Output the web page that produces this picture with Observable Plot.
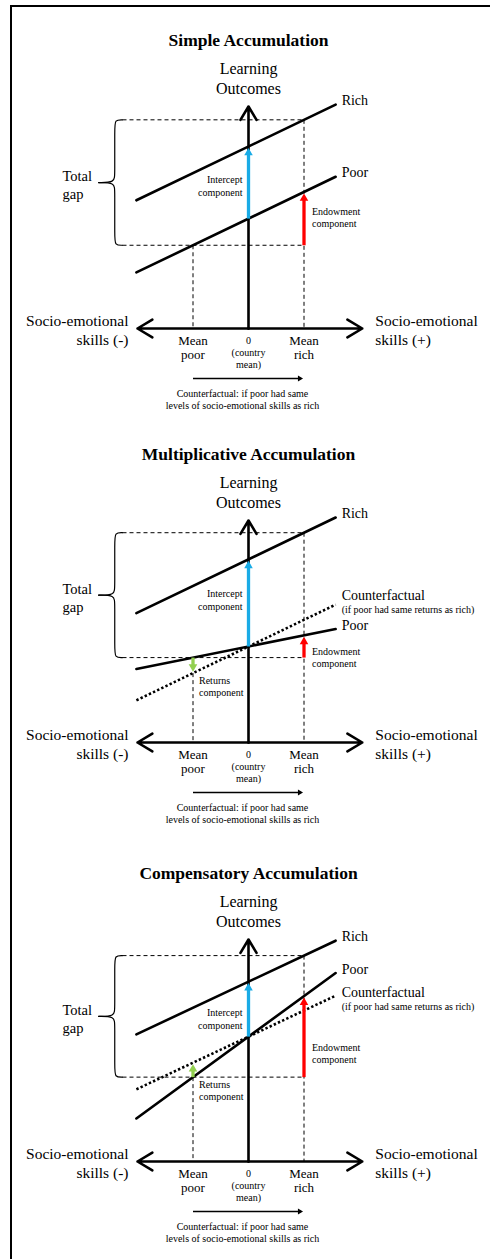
<!DOCTYPE html>
<html>
<head>
<meta charset="utf-8">
<script src="https://cdn.jsdelivr.net/npm/d3@7"></script>
<script src="https://cdn.jsdelivr.net/npm/@observablehq/plot@0.6"></script>
<style>
  html, body { margin: 0; padding: 0; background: #fff; }
  #wrap { position: relative; width: 492px; height: 1259px; overflow: hidden; }
  #frame { position: absolute; left: 10px; top: 5px; right: 2px; bottom: -4px;
           border-top: 2px solid #000; border-left: 2px solid #000; pointer-events: none; }
  svg { display: block; }
</style>
</head>
<body>
<div id="wrap"><div id="charts"></div><div id="frame"></div></div>
<script>
// ---------- data ----------
const panelTitles = ["Simple Accumulation", "Multiplicative Accumulation", "Compensatory Accumulation"];
const richIntercept = [3.28, 3.30, 3.24];   // learning outcome of rich at skills = 0
const richSlope     = [0.48, 0.48, 0.47];   // returns to skills, rich
const poorIntercept = [1.98, 1.73, 2.25];   // learning outcome of poor at skills = 0
const poorSlope     = [0.48, 0.20, 0.73];   // returns to skills, poor
const showCounterfactual = [false, true, true];
const meanPoor = -1, countryMean = 0, meanRich = 1;
const meanTickValues = [meanPoor, meanRich];
const meanTickLabels = ["Mean\npoor", "Mean\nrich"];
const zeroTickLabel = "0\n(country\nmean)";
const lineSpan = [-2.02, 1.57];
const skillAxisSpan = [-2.0, 2.05];
const outcomeAxisTop = 4.0;

// ---------- layout ----------
const panelHeights = [414, 419, 426];
const endowLabelY = [2.0, 1.53, 1.96];
const cfLabelDy = [0, -9, -3];
const interceptLabelY = 2.58;
const shiftArrowY = -0.9;
const blue = "#19ABE6", red = "#FF0000", green = "#92D050";
const serif = "'Liberation Serif', 'Times New Roman', Times, serif";
const tipOffset = rr => 2 * Math.sqrt(Math.PI * rr * rr / (3 * Math.sqrt(3)));
const headR = 4.1;
const headOff = tipOffset(headR);

function panel(i) {
  const rich = x => richIntercept[i] + richSlope[i] * x;
  const poor = x => poorIntercept[i] + poorSlope[i] * x;
  const cf   = x => poorIntercept[i] + richSlope[i] * x;
  const hasCf = showCounterfactual[i];
  const gapTop = rich(meanRich), gapBottom = poor(meanPoor);
  const mid = (gapTop + gapBottom) / 2, r = 0.15;
  const bx = {tip: -2.27, spine: -2.41, point: -2.70};

  const solidPts = [["Rich", rich], ["Poor", poor]].flatMap(([name, f]) =>
    lineSpan.map(x => ({name, x, y: f(x)})));
  const cfPts = hasCf ? lineSpan.map(x => ({x, y: cf(x)})) : [];

  const half = (h, yEnd, s) => [
    {h, x: bx.tip, y: yEnd}, {h, x: bx.spine, y: yEnd}, {h, x: bx.spine, y: yEnd - s * r},
    {h, x: bx.spine, y: mid + s * r}, {h, x: bx.spine, y: mid}, {h, x: bx.point, y: mid}
  ];
  const brace = [...half("top", gapTop, 1), ...half("bottom", gapBottom, -1)];

  const lowPoor = hasCf ? Math.min(poor(meanPoor), cf(meanPoor)) : poor(meanPoor);

  const comps = [
    {x: countryMean, y1: poor(countryMean), y2: rich(countryMean), c: blue},
    {x: meanRich, y1: gapBottom, y2: poor(meanRich), c: red}
  ];
  if (hasCf) comps.push({x: meanPoor, y1: poor(meanPoor), y2: cf(meanPoor), c: green});
  const compsUp = comps.filter(d => d.y2 > d.y1);
  const compsDown = comps.filter(d => d.y2 < d.y1);

  const lineLabels = [
    {x: lineSpan[1], y: rich(lineSpan[1]), t: "Rich"},
    {x: lineSpan[1], y: poor(lineSpan[1]), t: "Poor"}
  ];

  const marks = [
    // guide dashes
    Plot.link([{y: gapTop}, {y: gapBottom}], {x1: () => bx.tip, x2: () => meanRich, y1: "y", y2: "y",
      stroke: "#000", strokeWidth: 1, strokeDasharray: "4,3"}),
    Plot.link([{x: meanPoor, y: lowPoor}, {x: meanRich, y: gapTop}], {x1: "x", x2: "x", y1: "y", y2: () => 0,
      stroke: "#000", strokeWidth: 1, strokeDasharray: "4,3"}),
    // brace
    Plot.line(brace, {x: "x", y: "y", z: "h", curve: "basis", stroke: "#000", strokeWidth: 1.2}),
    // lines
    Plot.line(solidPts, {x: "x", y: "y", z: "name", stroke: "#000", strokeWidth: 2.6}),
    Plot.line(cfPts, {x: "x", y: "y", stroke: "#000", strokeWidth: 2.6, strokeDasharray: "2.4,2.2",
      strokeLinecap: "butt"}),
    // axes
    Plot.arrow([countryMean], {x1: d => d, x2: d => d, y1: () => 0, y2: () => outcomeAxisTop,
      stroke: "#000", strokeWidth: 2.6, headLength: 9, headAngle: 62}),
    Plot.arrow(skillAxisSpan, {x1: () => countryMean, x2: d => d, y1: () => 0, y2: () => 0,
      stroke: "#000", strokeWidth: 2.6, headLength: 10, headAngle: 62}),
    // components (shaft + filled head)
    Plot.arrow(comps, {x1: "x", x2: "x", y1: "y1", y2: "y2", stroke: "c", strokeWidth: 3.3,
      headLength: 0, insetEnd: headOff * 0.8, strokeLinecap: "butt"}),
    Plot.dot(compsUp, {x: "x", y: "y2", fill: "c", symbol: "triangle2", r: headR, dy: headOff, stroke: null}),
    Plot.dot(compsDown, {x: "x", y: "y2", fill: "c", symbol: "triangle2", r: headR, rotate: 180,
      dy: -headOff, stroke: null}),
    // shift arrow under the axis
    Plot.arrow([shiftArrowY], {x1: () => meanPoor, x2: () => meanRich, y1: d => d, y2: d => d,
      stroke: "#000", strokeWidth: 1.6, headLength: 0, insetEnd: 3, strokeLinecap: "butt"}),
    Plot.dot([shiftArrowY], {x: () => meanRich, y: d => d, fill: "#000", symbol: "triangle2", r: 2.8,
      rotate: 90, dx: -tipOffset(2.8), stroke: null}),

    // ---------- text ----------
    Plot.text([panelTitles[i]], {text: d => d, frameAnchor: "top", dx: 2, dy: 40, lineAnchor: "middle",
      fontSize: 17.5, fontWeight: "bold"}),
    Plot.text(["Learning\nOutcomes"], {text: d => d, x: () => countryMean, y: () => outcomeAxisTop,
      lineAnchor: "bottom", dy: -13, fontSize: 16, lineHeight: 1.2}),
    Plot.text(lineLabels, {x: "x", y: "y", text: "t", textAnchor: "start", dx: 6, dy: -4, fontSize: 14}),
    Plot.text(hasCf ? ["Counterfactual"] : [], {text: d => d, x: () => lineSpan[1], y: () => cf(lineSpan[1]),
      textAnchor: "start", dx: 6, dy: cfLabelDy[i], fontSize: 14}),
    Plot.text(hasCf ? ["(if poor had same returns as rich)"] : [], {text: d => d, x: () => lineSpan[1],
      y: () => cf(lineSpan[1]), textAnchor: "start", dx: 6, dy: cfLabelDy[i] + 14, fontSize: 10}),
    Plot.text(["Total\ngap"], {text: d => d, frameAnchor: "left", y: () => mid, dx: 62, dy: 2,
      textAnchor: "start", fontSize: 14.5, lineHeight: 1.24}),
    Plot.text(["Intercept\ncomponent"], {text: d => d, x: () => countryMean, y: () => interceptLabelY,
      textAnchor: "end", dx: -6, fontSize: 10, lineHeight: 1.25}),
    Plot.text(["Endowment\ncomponent"], {text: d => d, x: () => meanRich, y: () => endowLabelY[i],
      textAnchor: "start", dx: 8, fontSize: 10, lineHeight: 1.2}),
    Plot.text(hasCf ? ["Returns\ncomponent"] : [], {text: d => d, x: () => meanPoor, y: () => lowPoor,
      textAnchor: "start", lineAnchor: "top", dx: 6, dy: 2.5, fontSize: 10, lineHeight: 1.2}),
    Plot.text(["Socio-emotional\nskills (-)"], {text: d => d, x: () => skillAxisSpan[0], y: () => 0,
      textAnchor: "end", dx: -9, dy: 0.5, fontSize: 15.5, lineHeight: 1.23}),
    Plot.text(["Socio-emotional\nskills (+)"], {text: d => d, x: () => skillAxisSpan[1], y: () => 0,
      textAnchor: "start", dx: 13, dy: 0.5, fontSize: 15.5, lineHeight: 1.23}),
    Plot.text(meanTickValues, {x: d => d, y: () => 0, text: (d, j) => meanTickLabels[j],
      lineAnchor: "top", dy: 6.5, fontSize: 13, lineHeight: 1.08}),
    Plot.text([countryMean], {x: d => d, y: () => 0, text: () => zeroTickLabel,
      lineAnchor: "top", dy: 7, fontSize: 10, lineHeight: 1.2}),
    Plot.text(["Counterfactual: if poor had same\nlevels of socio-emotional skills as rich"], {text: d => d,
      x: () => countryMean, y: () => shiftArrowY, lineAnchor: "top", dx: -6, dy: 10, fontSize: 10, lineHeight: 1.2})
  ];

  return Plot.plot({
    width: 492,
    height: panelHeights[i],
    marginTop: 0, marginRight: 0, marginBottom: 0, marginLeft: 0,
    x: {type: "linear", domain: [-1, 1], range: [192.5, 303.5], axis: null},
    y: {type: "linear", domain: [0, 1], range: [328, 272.5], axis: null},
    style: {fontFamily: serif, background: "transparent", overflow: "visible", color: "#000"},
    marks
  });
}

const host = document.getElementById("charts");
panelTitles.forEach((_, i) => host.appendChild(panel(i)));
</script>
</body>
</html>
